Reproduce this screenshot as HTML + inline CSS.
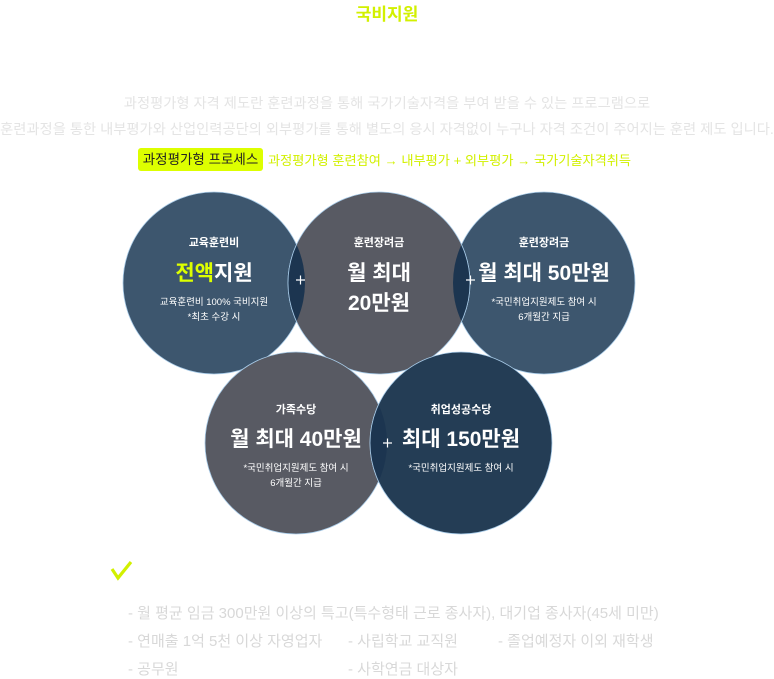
<!DOCTYPE html>
<html><head><meta charset="utf-8"><style>
body{margin:0;width:774px;height:678px;background:#fff;position:relative;overflow:hidden;font-family:"Liberation Sans","Noto Sans CJK KR",sans-serif}
.t{position:absolute;white-space:nowrap}
</style></head><body>
<div class="t" style="left:0;width:774px;text-align:center;top:0;font-size:17px;font-weight:bold;color:#d2f000">국비지원</div>
<div class="t" style="left:0;width:774px;text-align:center;top:92px;font-size:14.3px;color:#e4e4e4">과정평가형 자격 제도란 훈련과정을 통해 국가기술자격을 부여 받을 수 있는 프로그램으로</div>
<div class="t" style="left:-30px;width:834px;text-align:center;top:118px;font-size:14.3px;color:#e4e4e4">훈련과정을 통한 내부평가와 산업인력공단의 외부평가를 통해 별도의 응시 자격없이 누구나 자격 조건이 주어지는 훈련 제도 입니다.</div>
<div class="t" style="left:138px;top:148px;width:125px;height:23px;background:#ddff00;border-radius:3px;font-size:13.5px;line-height:23px;text-align:center;color:#222">과정평가형 프로세스</div>
<div class="t" style="left:268px;top:150px;font-size:13.2px;color:#d2f000">과정평가형 훈련참여 → 내부평가 + 외부평가 → 국가기술자격취득</div>
<svg width="774" height="678" style="position:absolute;left:0;top:0" font-family="Liberation Sans, Noto Sans CJK KR, sans-serif" text-anchor="middle" font-weight="bold">
<defs>
<clipPath id="c1"><circle cx="214" cy="283" r="91"/></clipPath>
<clipPath id="c3"><circle cx="544" cy="283" r="91"/></clipPath>
<clipPath id="c4"><circle cx="296" cy="443" r="91"/></clipPath>
</defs>
<g stroke="#a8cbe8" stroke-width="0.8">
<circle cx="214" cy="283" r="91" fill="#3d566e"/>
<circle cx="544" cy="283" r="91" fill="#3d566e"/>
<circle cx="379" cy="283" r="91" fill="#585a63"/>
<circle cx="296" cy="443" r="91" fill="#585a63"/>
<circle cx="461" cy="443" r="91" fill="#243d55"/>
<circle cx="379" cy="283" r="91" fill="#1c3550" clip-path="url(#c1)"/>
<circle cx="379" cy="283" r="91" fill="#1c3550" clip-path="url(#c3)"/>
<circle cx="461" cy="443" r="91" fill="#1c3550" clip-path="url(#c4)"/>
</g>
<g stroke="#fff" stroke-width="1.2"><path d="M296 280h9M300.5 275.5v9M466 280h9M470.5 275.5v9M383 443h9M387.5 438.5v9"/></g>
<g fill="#fff">
<text x="214" y="246" font-size="11">교육훈련비</text>
<text x="214" y="280" font-size="21"><tspan fill="#ddff00">전액</tspan>지원</text>
<text x="214" y="305" font-size="9.5" font-weight="normal">교육훈련비 100% 국비지원</text>
<text x="214" y="320" font-size="9.5" font-weight="normal">*최초 수강 시</text>
<text x="379" y="246" font-size="11">훈련장려금</text>
<text x="379" y="280" font-size="21">월 최대</text>
<text x="379" y="310" font-size="21">20만원</text>
<text x="544" y="246" font-size="11">훈련장려금</text>
<text x="544" y="280" font-size="21">월 최대 50만원</text>
<text x="544" y="305" font-size="9.5" font-weight="normal">*국민취업지원제도 참여 시</text>
<text x="544" y="320" font-size="9.5" font-weight="normal">6개월간 지급</text>
<text x="296" y="413" font-size="11">가족수당</text>
<text x="296" y="446" font-size="21">월 최대 40만원</text>
<text x="296" y="471" font-size="9.5" font-weight="normal">*국민취업지원제도 참여 시</text>
<text x="296" y="486" font-size="9.5" font-weight="normal">6개월간 지급</text>
<text x="461" y="413" font-size="11">취업성공수당</text>
<text x="461" y="446" font-size="21">최대 150만원</text>
<text x="461" y="471" font-size="9.5" font-weight="normal">*국민취업지원제도 참여 시</text>
</g>
<path d="M112 569 L118 578 L131 562" stroke="#d2f000" stroke-width="3.2" fill="none"/>
</svg>
<div class="t" style="left:128px;top:602px;font-size:15px;color:#d8d8d8">- 월 평균 임금 300만원 이상의 특고(특수형태 근로 종사자), 대기업 종사자(45세 미만)</div>
<div class="t" style="left:128px;top:630px;font-size:15px;color:#d8d8d8">- 연매출 1억 5천 이상 자영업자</div>
<div class="t" style="left:348px;top:630px;font-size:15px;color:#d8d8d8">- 사립학교 교직원</div>
<div class="t" style="left:498px;top:630px;font-size:15px;color:#d8d8d8">- 졸업예정자 이외 재학생</div>
<div class="t" style="left:128px;top:658px;font-size:15px;color:#d8d8d8">- 공무원</div>
<div class="t" style="left:348px;top:658px;font-size:15px;color:#d8d8d8">- 사학연금 대상자</div>
</body></html>
